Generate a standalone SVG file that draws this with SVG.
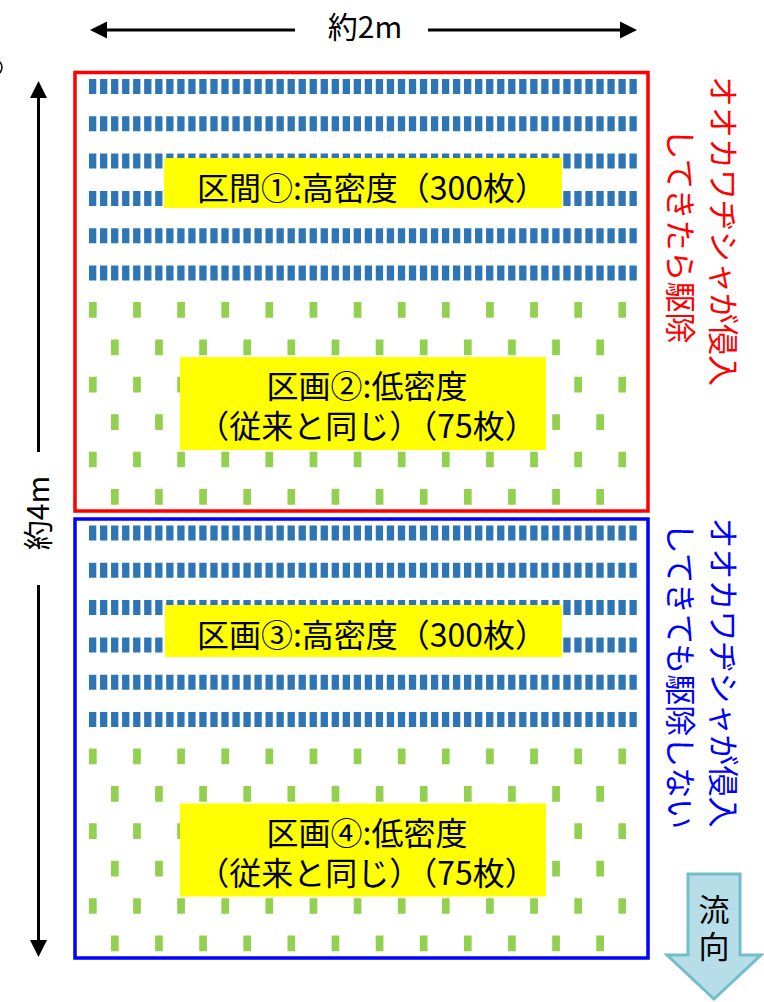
<svg xmlns="http://www.w3.org/2000/svg" width="764" height="1002" viewBox="0 0 764 1002">
<defs>
<style>
text{font-family:"Noto Sans CJK JP","Noto Sans CJK SC",sans-serif;}
.dim{stroke:#000;stroke-width:3;fill:none}
.head{fill:#000}
.br{stroke:#2E75B6;stroke-width:15;stroke-dasharray:7.3 3.73;fill:none}
.gr{stroke:#92D050;stroke-width:15.7;stroke-dasharray:7.7 36.42;fill:none}
.lbl{fill:#FFFF00}
.lt{font-size:32px;fill:#000;text-anchor:middle}
.side{font-size:31px;text-anchor:middle}
</style>
<g id="plants">
<line class="br" x1="89" y1="86.5" x2="637" y2="86.5"/>
<line class="br" x1="89" y1="123.8" x2="637" y2="123.8"/>
<line class="br" x1="89" y1="161.1" x2="637" y2="161.1"/>
<line class="br" x1="89" y1="198.4" x2="637" y2="198.4"/>
<line class="br" x1="89" y1="235.7" x2="637" y2="235.7"/>
<line class="br" x1="89" y1="273" x2="637" y2="273"/>
<line class="gr" x1="89" y1="309.9" x2="626" y2="309.9"/>
<line class="gr" x1="111" y1="347.3" x2="604" y2="347.3"/>
<line class="gr" x1="89" y1="384.7" x2="626" y2="384.7"/>
<line class="gr" x1="111" y1="422.1" x2="604" y2="422.1"/>
<line class="gr" x1="89" y1="459.5" x2="626" y2="459.5"/>
<line class="gr" x1="111" y1="496.9" x2="604" y2="496.9"/>
</g>
</defs>

<g id="dimensions">
<g id="width-arrow">
<line class="dim" x1="104" y1="30" x2="295" y2="30"/>
<line class="dim" x1="428" y1="30" x2="622" y2="30"/>
<polygon class="head" points="90,30 107,21.5 107,38.5"/>
<polygon class="head" points="637,30 620,21.5 620,38.5"/>
<text x="365" y="37.5" font-size="30" text-anchor="middle" fill="#000">約2m</text>
</g>
<g id="height-arrow">
<line class="dim" x1="38.5" y1="95" x2="38.5" y2="452"/>
<line class="dim" x1="38.5" y1="585" x2="38.5" y2="942"/>
<polygon class="head" points="38.5,81 30,98 47,98"/>
<polygon class="head" points="38.5,957 30,940 47,940"/>
<text transform="translate(49,513) rotate(-90)" font-size="30" text-anchor="middle" fill="#000">約4m</text>
</g>
<path d="M0,62 Q4,67 0,73" stroke="#000" stroke-width="1.5" fill="none"/>
</g>

<g id="section-upper">
<use href="#plants"/>
<rect x="75" y="72.5" width="573" height="438.5" fill="none" stroke="#FF0000" stroke-width="3.5"/>
</g>
<g id="section-lower">
<use href="#plants" transform="translate(0,446.5)"/>
<rect x="75" y="519" width="573" height="439" fill="none" stroke="#0000FF" stroke-width="3.5"/>
</g>

<g id="label-1">
<rect class="lbl" x="164" y="158" width="398" height="50"/>
<text class="lt" x="372" y="200">区間①:高密度（300枚）</text>
</g>
<g id="label-2">
<rect class="lbl" x="180" y="357" width="366" height="93"/>
<text class="lt" x="367" y="398">区画②:低密度<tspan x="367" dy="40">（従来と同じ）（75枚）</tspan></text>
</g>
<g id="label-3">
<rect class="lbl" x="165" y="605" width="397" height="52"/>
<text class="lt" x="372" y="646.5">区画③:高密度（300枚）</text>
</g>
<g id="label-4">
<rect class="lbl" x="180" y="803.5" width="366" height="93"/>
<text class="lt" x="367" y="844.5">区画④:低密度<tspan x="367" dy="40">（従来と同じ）（75枚）</tspan></text>
</g>

<g id="note-upper" fill="#FF0000">
<text class="side" transform="translate(712,231) rotate(90)">オオカワヂシャが侵入</text>
<text class="side" transform="translate(669,236) rotate(90)">してきたら駆除</text>
</g>
<g id="note-lower" fill="#0000FF">
<text class="side" transform="translate(712,672.5) rotate(90)">オオカワヂシャが侵入</text>
<text class="side" transform="translate(669,676) rotate(90)">してきても駆除しない</text>
</g>

<g id="flow-arrow">
<polygon points="688,874 740,874 740,955 761,955 714,999 667,955 688,955" fill="#B7DEE8" stroke="#72BDCC" stroke-width="3" stroke-linejoin="miter"/>
<text x="714" y="921" font-size="31" text-anchor="middle" fill="#000">流<tspan x="714" dy="37">向</tspan></text>
</g>
</svg>
